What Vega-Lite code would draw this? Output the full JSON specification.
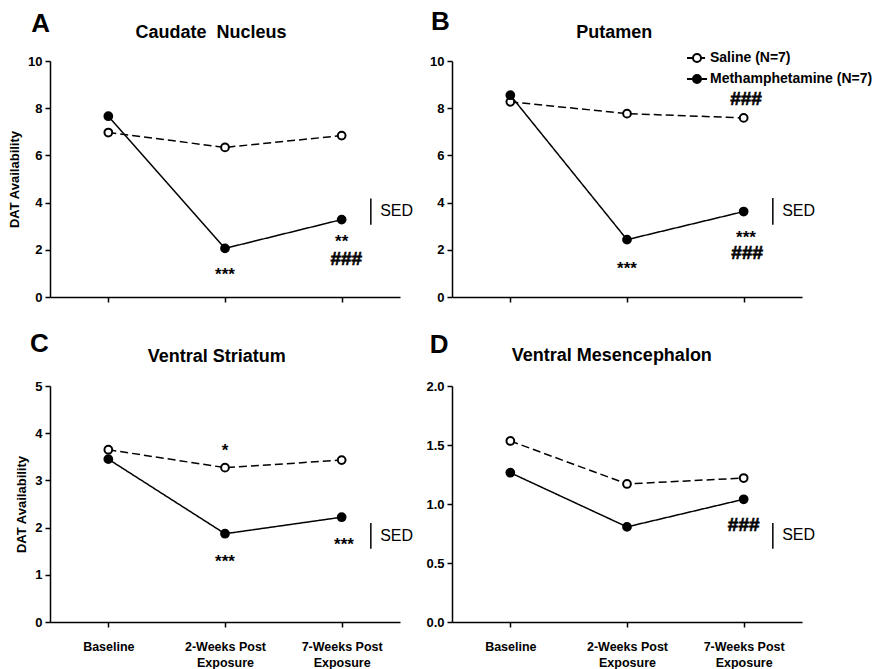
{
  "$schema": "https://vega.github.io/schema/vega-lite/v6.json",
  "background": "white",
  "padding": {"left": 8, "top": 9, "right": 0, "bottom": 0},
  "datasets": {
    "means": [
      {"panel": "A", "g": "Saline (N=7)", "t": 0, "v": 6.97},
      {"panel": "A", "g": "Saline (N=7)", "t": 1, "v": 6.34},
      {"panel": "A", "g": "Saline (N=7)", "t": 2, "v": 6.84},
      {"panel": "A", "g": "Methamphetamine (N=7)", "t": 0, "v": 7.66},
      {"panel": "A", "g": "Methamphetamine (N=7)", "t": 1, "v": 2.06},
      {"panel": "A", "g": "Methamphetamine (N=7)", "t": 2, "v": 3.28},
      {"panel": "B", "g": "Saline (N=7)", "t": 0, "v": 8.27},
      {"panel": "B", "g": "Saline (N=7)", "t": 1, "v": 7.77},
      {"panel": "B", "g": "Saline (N=7)", "t": 2, "v": 7.59},
      {"panel": "B", "g": "Methamphetamine (N=7)", "t": 0, "v": 8.55},
      {"panel": "B", "g": "Methamphetamine (N=7)", "t": 1, "v": 2.43},
      {"panel": "B", "g": "Methamphetamine (N=7)", "t": 2, "v": 3.62},
      {"panel": "C", "g": "Saline (N=7)", "t": 0, "v": 3.65},
      {"panel": "C", "g": "Saline (N=7)", "t": 1, "v": 3.27},
      {"panel": "C", "g": "Saline (N=7)", "t": 2, "v": 3.43},
      {"panel": "C", "g": "Methamphetamine (N=7)", "t": 0, "v": 3.45},
      {"panel": "C", "g": "Methamphetamine (N=7)", "t": 1, "v": 1.87},
      {"panel": "C", "g": "Methamphetamine (N=7)", "t": 2, "v": 2.22},
      {"panel": "D", "g": "Saline (N=7)", "t": 0, "v": 1.534},
      {"panel": "D", "g": "Saline (N=7)", "t": 1, "v": 1.17},
      {"panel": "D", "g": "Saline (N=7)", "t": 2, "v": 1.22},
      {"panel": "D", "g": "Methamphetamine (N=7)", "t": 0, "v": 1.265},
      {"panel": "D", "g": "Methamphetamine (N=7)", "t": 1, "v": 0.806},
      {"panel": "D", "g": "Methamphetamine (N=7)", "t": 2, "v": 1.04}
    ],
    "notes": [
      {"panel": "A", "kind": "letter", "t": -0.58, "v": 11.55, "label": "A"},
      {"panel": "A", "kind": "title", "t": 0.88, "v": 11.2, "label": "Caudate\u00a0 Nucleus"},
      {"panel": "A", "kind": "star", "t": 1, "v": 1.12, "label": "***"},
      {"panel": "A", "kind": "star", "t": 2, "v": 2.5, "label": "**"},
      {"panel": "A", "kind": "hash", "t": 2.04, "v": 1.6, "label": "###"},
      {"panel": "A", "kind": "sed", "t": 2.33, "v": 3.66, "label": "SED"},
      {"panel": "B", "kind": "letter", "t": -0.6, "v": 11.65, "label": "B"},
      {"panel": "B", "kind": "title", "t": 0.89, "v": 11.2, "label": "Putamen"},
      {"panel": "B", "kind": "star", "t": 1, "v": 1.36, "label": "***"},
      {"panel": "B", "kind": "star", "t": 2.02, "v": 2.67, "label": "***"},
      {"panel": "B", "kind": "hash", "t": 2.03, "v": 1.86, "label": "###"},
      {"panel": "B", "kind": "hash", "t": 2.02, "v": 8.41, "label": "###"},
      {"panel": "B", "kind": "sed", "t": 2.33, "v": 3.63, "label": "SED"},
      {"panel": "C", "kind": "letter", "t": -0.59, "v": 5.89, "label": "C"},
      {"panel": "C", "kind": "title", "t": 0.93, "v": 5.61, "label": "Ventral Striatum"},
      {"panel": "C", "kind": "star", "t": 1, "v": 3.71, "label": "*"},
      {"panel": "C", "kind": "star", "t": 1, "v": 1.35, "label": "***"},
      {"panel": "C", "kind": "star", "t": 2.02, "v": 1.72, "label": "***"},
      {"panel": "C", "kind": "sed", "t": 2.33, "v": 1.82, "label": "SED"},
      {"panel": "D", "kind": "letter", "t": -0.61, "v": 2.35, "label": "D"},
      {"panel": "D", "kind": "title", "t": 0.87, "v": 2.254, "label": "Ventral Mesencephalon"},
      {"panel": "D", "kind": "hash", "t": 2.0, "v": 0.82, "label": "###"},
      {"panel": "D", "kind": "sed", "t": 2.33, "v": 0.735, "label": "SED"}
    ],
    "sed": [
      {"panel": "A", "t": 2.25, "v": 3.06, "v2": 4.17},
      {"panel": "B", "t": 2.25, "v": 3.06, "v2": 4.2},
      {"panel": "C", "t": 2.25, "v": 1.55, "v2": 2.1},
      {"panel": "D", "t": 2.25, "v": 0.62, "v2": 0.84}
    ]
  },
  "config": {
    "view": {"stroke": null},
    "axis": {"domainColor": "black", "domainWidth": 1.5, "tickColor": "black", "tickWidth": 1.5, "tickSize": 5, "grid": false, "labelFont": "Liberation Sans", "labelFontWeight": "bold", "labelColor": "black", "titleFont": "Liberation Sans", "titleFontWeight": "bold", "titleColor": "black"},
    "text": {"font": "Liberation Sans", "color": "black"}
  },
  "columns": 2,
  "spacing": {"row": 89, "column": 52},
  "bounds": "flush",
  "resolve": {"scale": {"fill": "independent", "shape": "independent"}},
  "concat": [
    {
      "width": 350, "height": 236,
      "encoding": {
        "x": {"field": "t", "type": "quantitative", "scale": {"domain": [-0.5, 2.5], "nice": false, "zero": false}, "axis": {"values": [0, 1, 2], "labels": false, "title": null}},
        "y": {"field": "v", "type": "quantitative", "scale": {"domain": [0, 10], "nice": false}, "axis": {"values": [0, 2, 4, 6, 8, 10], "title": "DAT Availability", "labelFontSize": 13, "titleFontSize": 13, "titlePadding": 6, "labelPadding": 3}}
      },
      "layer": [
        {"data": {"name": "means"}, "transform": [{"filter": "datum.panel === 'A'"}], "mark": {"type": "line", "color": "black", "strokeWidth": 1.5}, "encoding": {"detail": {"field": "g"}, "strokeDash": {"condition": {"test": "datum.g === 'Saline (N=7)'", "value": [8, 4]}, "value": [1, 0]}}},
        {"data": {"name": "means"}, "transform": [{"filter": "datum.panel === 'A'"}], "mark": {"type": "point", "shape": "circle", "size": 60, "stroke": "black", "strokeWidth": 2, "opacity": 1}, "encoding": {"fill": {"condition": {"test": "datum.g === 'Saline (N=7)'", "value": "white"}, "value": "black"}}},
        {"data": {"name": "sed"}, "transform": [{"filter": "datum.panel === 'A'"}], "mark": {"type": "rule", "color": "black", "strokeWidth": 1.5}, "encoding": {"y2": {"field": "v2"}}},
        {"data": {"name": "notes"}, "transform": [{"filter": "datum.panel === 'A' && datum.kind === 'star'"}], "mark": {"type": "text", "fontSize": 17, "fontWeight": "bold", "baseline": "middle", "dy": 4}, "encoding": {"text": {"field": "label"}}},
        {"data": {"name": "notes"}, "transform": [{"filter": "datum.panel === 'A' && datum.kind === 'hash'"}], "mark": {"type": "text", "fontSize": 19, "fontWeight": "bold", "baseline": "middle", "stroke": "black", "strokeWidth": 0.6}, "encoding": {"text": {"field": "label"}}},
        {"data": {"name": "notes"}, "transform": [{"filter": "datum.panel === 'A' && datum.kind === 'sed'"}], "mark": {"type": "text", "fontSize": 16, "align": "left", "baseline": "middle"}, "encoding": {"text": {"field": "label"}}},
        {"data": {"name": "notes"}, "transform": [{"filter": "datum.panel === 'A' && datum.kind === 'letter'"}], "mark": {"type": "text", "fontSize": 26, "fontWeight": "bold", "baseline": "middle"}, "encoding": {"text": {"field": "label"}}},
        {"data": {"name": "notes"}, "transform": [{"filter": "datum.panel === 'A' && datum.kind === 'title'"}], "mark": {"type": "text", "fontSize": 18, "fontWeight": "bold", "baseline": "middle"}, "encoding": {"text": {"field": "label"}}}
      ]
    },
    {
      "width": 350, "height": 236,
      "encoding": {
        "x": {"field": "t", "type": "quantitative", "scale": {"domain": [-0.5, 2.5], "nice": false, "zero": false}, "axis": {"values": [0, 1, 2], "labels": false, "title": null}},
        "y": {"field": "v", "type": "quantitative", "scale": {"domain": [0, 10], "nice": false}, "axis": {"values": [0, 2, 4, 6, 8, 10], "title": null, "labelFontSize": 13, "labelPadding": 3}}
      },
      "layer": [
        {"data": {"name": "means"}, "transform": [{"filter": "datum.panel === 'B'"}], "mark": {"type": "line", "color": "black", "strokeWidth": 1.5}, "encoding": {"detail": {"field": "g"}, "strokeDash": {"condition": {"test": "datum.g === 'Saline (N=7)'", "value": [8, 4]}, "value": [1, 0]}}},
        {"data": {"name": "means"}, "transform": [{"filter": "datum.panel === 'B'"}], "mark": {"type": "point", "shape": "circle", "size": 60, "stroke": "black", "strokeWidth": 2, "opacity": 1}, "encoding": {"fill": {"condition": {"test": "datum.g === 'Saline (N=7)'", "value": "white"}, "value": "black"}}},
        {"data": {"name": "means"}, "transform": [{"filter": "datum.panel === 'B'"}], "mark": {"type": "point", "filled": true, "opacity": 0, "size": 400},
          "encoding": {
            "shape": {"field": "g", "type": "nominal", "scale": {"domain": ["Saline (N=7)", "Methamphetamine (N=7)"], "range": ["M-1,0H-0.45M0.45,0H0.8M-0.4,0A0.4,0.4,0,1,0,0.4,0A0.4,0.4,0,1,0,-0.4,0", "M-1,0H1M-0.4,0A0.4,0.4,0,1,0,0.4,0A0.4,0.4,0,1,0,-0.4,0"]},
              "legend": {"title": null, "orient": "none", "legendX": 234, "legendY": -14, "labelFont": "Liberation Sans", "labelFontSize": 14, "labelFontWeight": "bold", "labelColor": "black", "labelOffset": 2, "labelLimit": 400, "symbolSize": 400, "rowPadding": 2, "padding": 0, "symbolStrokeWidth": 2, "symbolStrokeColor": "black", "symbolOpacity": 1, "encode": {"symbols": {"update": {"opacity": {"value": 1}, "stroke": {"value": "black"}, "strokeWidth": {"value": 2}}}}}},
            "fill": {"field": "g", "type": "nominal", "scale": {"domain": ["Saline (N=7)", "Methamphetamine (N=7)"], "range": ["white", "black"]},
              "legend": {"title": null, "orient": "none", "legendX": 234, "legendY": -14, "labelFont": "Liberation Sans", "labelFontSize": 14, "labelFontWeight": "bold", "labelColor": "black", "labelOffset": 2, "labelLimit": 400, "symbolSize": 400, "rowPadding": 2, "padding": 0, "symbolStrokeWidth": 2, "symbolStrokeColor": "black", "symbolOpacity": 1, "encode": {"symbols": {"update": {"opacity": {"value": 1}, "stroke": {"value": "black"}, "strokeWidth": {"value": 2}}}}}}
          }
        },
        {"data": {"name": "sed"}, "transform": [{"filter": "datum.panel === 'B'"}], "mark": {"type": "rule", "color": "black", "strokeWidth": 1.5}, "encoding": {"y2": {"field": "v2"}}},
        {"data": {"name": "notes"}, "transform": [{"filter": "datum.panel === 'B' && datum.kind === 'star'"}], "mark": {"type": "text", "fontSize": 17, "fontWeight": "bold", "baseline": "middle", "dy": 4}, "encoding": {"text": {"field": "label"}}},
        {"data": {"name": "notes"}, "transform": [{"filter": "datum.panel === 'B' && datum.kind === 'hash'"}], "mark": {"type": "text", "fontSize": 19, "fontWeight": "bold", "baseline": "middle", "stroke": "black", "strokeWidth": 0.6}, "encoding": {"text": {"field": "label"}}},
        {"data": {"name": "notes"}, "transform": [{"filter": "datum.panel === 'B' && datum.kind === 'sed'"}], "mark": {"type": "text", "fontSize": 16, "align": "left", "baseline": "middle"}, "encoding": {"text": {"field": "label"}}},
        {"data": {"name": "notes"}, "transform": [{"filter": "datum.panel === 'B' && datum.kind === 'letter'"}], "mark": {"type": "text", "fontSize": 26, "fontWeight": "bold", "baseline": "middle"}, "encoding": {"text": {"field": "label"}}},
        {"data": {"name": "notes"}, "transform": [{"filter": "datum.panel === 'B' && datum.kind === 'title'"}], "mark": {"type": "text", "fontSize": 18, "fontWeight": "bold", "baseline": "middle"}, "encoding": {"text": {"field": "label"}}}
      ]
    },
    {
      "width": 350, "height": 236,
      "encoding": {
        "x": {"field": "t", "type": "quantitative", "scale": {"domain": [-0.5, 2.5], "nice": false, "zero": false}, "axis": {"values": [0, 1, 2], "title": null, "labelFontSize": 12.5, "labelBaseline": "middle", "labelPadding": 19, "labelLineHeight": 16, "labelExpr": "datum.value === 0 ? 'Baseline' : (datum.value === 1 ? ['2-Weeks Post', 'Exposure'] : ['7-Weeks Post', 'Exposure'])"}},
        "y": {"field": "v", "type": "quantitative", "scale": {"domain": [0, 5], "nice": false}, "axis": {"values": [0, 1, 2, 3, 4, 5], "title": "DAT Availability", "labelFontSize": 13, "titleFontSize": 13, "titlePadding": 6, "labelPadding": 3}}
      },
      "layer": [
        {"data": {"name": "means"}, "transform": [{"filter": "datum.panel === 'C'"}], "mark": {"type": "line", "color": "black", "strokeWidth": 1.5}, "encoding": {"detail": {"field": "g"}, "strokeDash": {"condition": {"test": "datum.g === 'Saline (N=7)'", "value": [8, 4]}, "value": [1, 0]}}},
        {"data": {"name": "means"}, "transform": [{"filter": "datum.panel === 'C'"}], "mark": {"type": "point", "shape": "circle", "size": 60, "stroke": "black", "strokeWidth": 2, "opacity": 1}, "encoding": {"fill": {"condition": {"test": "datum.g === 'Saline (N=7)'", "value": "white"}, "value": "black"}}},
        {"data": {"name": "sed"}, "transform": [{"filter": "datum.panel === 'C'"}], "mark": {"type": "rule", "color": "black", "strokeWidth": 1.5}, "encoding": {"y2": {"field": "v2"}}},
        {"data": {"name": "notes"}, "transform": [{"filter": "datum.panel === 'C' && datum.kind === 'star'"}], "mark": {"type": "text", "fontSize": 17, "fontWeight": "bold", "baseline": "middle", "dy": 4}, "encoding": {"text": {"field": "label"}}},
        {"data": {"name": "notes"}, "transform": [{"filter": "datum.panel === 'C' && datum.kind === 'sed'"}], "mark": {"type": "text", "fontSize": 16, "align": "left", "baseline": "middle"}, "encoding": {"text": {"field": "label"}}},
        {"data": {"name": "notes"}, "transform": [{"filter": "datum.panel === 'C' && datum.kind === 'letter'"}], "mark": {"type": "text", "fontSize": 26, "fontWeight": "bold", "baseline": "middle"}, "encoding": {"text": {"field": "label"}}},
        {"data": {"name": "notes"}, "transform": [{"filter": "datum.panel === 'C' && datum.kind === 'title'"}], "mark": {"type": "text", "fontSize": 18, "fontWeight": "bold", "baseline": "middle"}, "encoding": {"text": {"field": "label"}}}
      ]
    },
    {
      "width": 350, "height": 236,
      "encoding": {
        "x": {"field": "t", "type": "quantitative", "scale": {"domain": [-0.5, 2.5], "nice": false, "zero": false}, "axis": {"values": [0, 1, 2], "title": null, "labelFontSize": 12.5, "labelBaseline": "middle", "labelPadding": 19, "labelLineHeight": 16, "labelExpr": "datum.value === 0 ? 'Baseline' : (datum.value === 1 ? ['2-Weeks Post', 'Exposure'] : ['7-Weeks Post', 'Exposure'])"}},
        "y": {"field": "v", "type": "quantitative", "scale": {"domain": [0, 2], "nice": false}, "axis": {"values": [0, 0.5, 1, 1.5, 2], "format": ".1f", "title": null, "labelFontSize": 13, "labelPadding": 3}}
      },
      "layer": [
        {"data": {"name": "means"}, "transform": [{"filter": "datum.panel === 'D'"}], "mark": {"type": "line", "color": "black", "strokeWidth": 1.5}, "encoding": {"detail": {"field": "g"}, "strokeDash": {"condition": {"test": "datum.g === 'Saline (N=7)'", "value": [8, 4]}, "value": [1, 0]}}},
        {"data": {"name": "means"}, "transform": [{"filter": "datum.panel === 'D'"}], "mark": {"type": "point", "shape": "circle", "size": 60, "stroke": "black", "strokeWidth": 2, "opacity": 1}, "encoding": {"fill": {"condition": {"test": "datum.g === 'Saline (N=7)'", "value": "white"}, "value": "black"}}},
        {"data": {"name": "sed"}, "transform": [{"filter": "datum.panel === 'D'"}], "mark": {"type": "rule", "color": "black", "strokeWidth": 1.5}, "encoding": {"y2": {"field": "v2"}}},
        {"data": {"name": "notes"}, "transform": [{"filter": "datum.panel === 'D' && datum.kind === 'hash'"}], "mark": {"type": "text", "fontSize": 19, "fontWeight": "bold", "baseline": "middle", "stroke": "black", "strokeWidth": 0.6}, "encoding": {"text": {"field": "label"}}},
        {"data": {"name": "notes"}, "transform": [{"filter": "datum.panel === 'D' && datum.kind === 'sed'"}], "mark": {"type": "text", "fontSize": 16, "align": "left", "baseline": "middle"}, "encoding": {"text": {"field": "label"}}},
        {"data": {"name": "notes"}, "transform": [{"filter": "datum.panel === 'D' && datum.kind === 'letter'"}], "mark": {"type": "text", "fontSize": 26, "fontWeight": "bold", "baseline": "middle"}, "encoding": {"text": {"field": "label"}}},
        {"data": {"name": "notes"}, "transform": [{"filter": "datum.panel === 'D' && datum.kind === 'title'"}], "mark": {"type": "text", "fontSize": 18, "fontWeight": "bold", "baseline": "middle"}, "encoding": {"text": {"field": "label"}}}
      ]
    }
  ]
}
